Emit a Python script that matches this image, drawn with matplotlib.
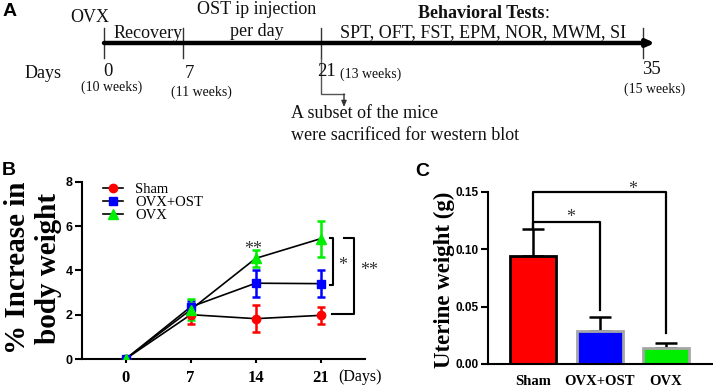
import matplotlib
matplotlib.use("Agg")
import matplotlib.pyplot as plt
from matplotlib.lines import Line2D

SERIF = "Liberation Serif"
SANS = "Liberation Sans"

RED = "#ff0000"
BLUE = "#0000ff"
GREEN = "#00ee00"

# --- Panel B: % increase in body weight ---
days = ["0", "7", "14", "21"]
sham_mean = [0.0, 2.0, 1.82, 1.97]
sham_err = [0.0, 0.42, 0.62, 0.39]
ost_mean = [0.0, 2.35, 3.42, 3.40]
ost_err = [0.0, 0.25, 0.60, 0.62]
ovx_mean = [0.0, 2.22, 4.54, 5.43]
ovx_err = [0.0, 0.47, 0.40, 0.81]

# --- Panel C: uterine weight ---
groups = ["Sham", "OVX+OST", "OVX"]
uterine_mean = [0.094, 0.029, 0.014]
uterine_err = [0.024, 0.012, 0.0044]

# --- Panel A: timeline ---
tl_days = ["0", "7", "21", "35"]
tl_weeks = ["(10 weeks)", "(11 weeks)", "(13 weeks)", "(15 weeks)"]
tl_x = [104, 183, 321, 643]  # pixel positions of the day ticks

fig = plt.figure(figsize=(7.13, 3.87), dpi=100)

# ---------------- Panel A (pixel coordinates) ----------------
ax0 = fig.add_axes([0, 0, 1, 1])
ax0.set_xlim(0, 713)
ax0.set_ylim(387, 0)
ax0.axis("off")

ax0.annotate("", xy=(655, 43), xytext=(tl_x[0], 43),
             arrowprops=dict(arrowstyle="-|>,head_length=0.45,head_width=0.2",
                             lw=3.2, color="black", shrinkA=0, shrinkB=0))
for x in tl_x:
    ax0.plot([x, x], [28, 58], color="#333333", lw=1.0)

tA = dict(family=SERIF, fontsize=13, color="#111111")
ax0.text(90, 18, "OVX", ha="center", va="center", **tA)
ax0.text(148, 33, "Recovery", ha="center", va="center", **tA)
ax0.text(257, 9, "OST ip injection", ha="center", va="center", **tA)
ax0.text(257, 32, "per day", ha="center", va="center", **tA)
bt = ax0.text(418, 13, "Behavioral Tests", ha="left", va="center",
              fontweight="bold", **tA)
ax0.annotate(":", xy=(1, 0.5), xycoords=bt, ha="left", va="center", **tA)
ax0.text(340, 33, "SPT, OFT, FST, EPM, NOR, MWM, SI", ha="left", va="center", **tA)
ax0.text(25, 73, "Days", ha="left", va="center", **tA)

day_y = [71, 74, 72, 70]
week_pos = [(112, 87, "center"), (201, 92, "center"), (340, 74, "left"), (655, 89, "center")]
day_dx = [4, 6, 6, 8]
for x, lab, dy, dx, (wx, wy, wha), wk in zip(tl_x, tl_days, day_y, day_dx, week_pos, tl_weeks):
    ax0.text(x + dx, dy, lab, ha="center", va="center", family=SERIF,
             fontsize=13.5, color="#111111")
    ax0.text(wx, wy, wk, ha=wha, va="center", family=SERIF, fontsize=10,
             color="#111111")

ax0.plot([321, 321, 344], [58, 94, 94], color="#555555", lw=1.0)
ax0.annotate("", xy=(344, 107), xytext=(344, 94),
             arrowprops=dict(arrowstyle="-|>,head_length=0.35,head_width=0.15",
                             lw=1.0, color="#333333", shrinkA=0, shrinkB=0))
ax0.text(291, 113, "A subset of the mice", ha="left", va="center", **tA)
ax0.text(291, 135, "were sacrificed for western blot", ha="left", va="center", **tA)

fig.text(0.004, 1 - 12 / 387, "A", family=SANS, fontsize=14, fontweight="bold",
         ha="left", va="center")
fig.text(0.003, 1 - 170 / 387, "B", family=SANS, fontsize=14, fontweight="bold",
         ha="left", va="center")
fig.text(415 / 713, 1 - 171 / 387, "C", family=SANS, fontsize=14, fontweight="bold",
         ha="left", va="center")

# ---------------- Panel B ----------------
axB = fig.add_axes([82 / 713, 28 / 387, 283 / 713, 177.3 / 387])
xs = list(range(len(days)))
series = [
    ("Sham", sham_mean, sham_err, RED, "o", 6),
    ("OVX+OST", ost_mean, ost_err, BLUE, "s", 6),
    ("OVX", ovx_mean, ovx_err, GREEN, "^", 7),
]
for name, m, e, c, mk, ms in series:
    axB.plot(xs, m, color="black", lw=1.2, zorder=2)
for name, m, e, c, mk, ms in series:
    axB.errorbar(xs, m, yerr=e, fmt="none", ecolor=c, elinewidth=1.8,
                 capsize=2.6, capthick=1.8, zorder=3)
    axB.plot(xs, m, linestyle="none", marker=mk, ms=ms, color=c, zorder=4)

axB.set_xlim(-0.67, 3.68)
axB.set_ylim(0, 8)
axB.set_yticks([0, 2, 4, 6, 8])
axB.set_xticks(xs)
axB.set_xticklabels(days, family=SERIF, fontsize=12, fontweight="bold")
for lab in axB.get_yticklabels():
    lab.set_family(SANS)
    lab.set_fontweight("bold")
    lab.set_fontsize(9)
axB.tick_params(axis="y", length=5, width=1.5, pad=1.5)
axB.tick_params(axis="x", length=3, width=1.5, pad=5)
for s in ("top", "right"):
    axB.spines[s].set_visible(False)
for s in ("left", "bottom"):
    axB.spines[s].set_linewidth(1.5)

axB.text(3.27, -0.10, "(Days)", transform=axB.get_xaxis_transform(),
         family=SERIF, fontsize=11.5, ha="left", va="center")

handles = [Line2D([], [], color="black", lw=1.2, marker=mk, ms=ms, mfc=c, mec=c)
           for name, m, e, c, mk, ms in series]
axB.legend(handles, [s[0] for s in series], loc="upper left",
           bbox_to_anchor=(0.074, 0.995), frameon=False, borderpad=0,
           borderaxespad=0, labelspacing=0.0, handlelength=1.4,
           handletextpad=0.8, prop=dict(family=SERIF, size=10.5))

# significance brackets
br1_x = [3.14, 3.19, 3.19, 3.14]
br1_y = [5.46, 5.46, 3.34, 3.34]
br2_x = [3.35, 3.51, 3.51, 3.17]
br2_y = [5.46, 5.46, 2.03, 2.03]
axB.plot(br1_x, br1_y, color="black", lw=1.5, clip_on=False)
axB.plot(br2_x, br2_y, color="black", lw=1.5, clip_on=False)
star = dict(family=SERIF, fontsize=13, color="#333333", ha="center", va="center")
axB.text(1.96, 4.95, "**", **star)
axB.text(3.33, 4.22, "*", clip_on=False, **star)
axB.text(3.74, 4.0, "**", clip_on=False, **star)

fig.text(33 / 713, 1 - 268 / 387, "% Increase in\nbody weight", rotation=90,
         family=SERIF, fontsize=21, fontweight="bold", ha="center", va="center",
         multialignment="center", linespacing=1.15)

# ---------------- Panel C ----------------
axC = fig.add_axes([488 / 713, 23 / 387, 224 / 713, 172 / 387])
xc = list(range(len(groups)))
bar_colors = [RED, BLUE, GREEN]
edge_colors = ["black", "#a6a6a6", "#a6a6a6"]
axC.bar(xc, uterine_mean, width=0.69, color=bar_colors, edgecolor=edge_colors,
        linewidth=2.0, zorder=2)
axC.errorbar(xc, uterine_mean, yerr=[[0] * len(xc), uterine_err], fmt="none",
             ecolor="black", elinewidth=1.8, capsize=8, capthick=1.8, zorder=1)
axC.set_xlim(-0.677, 2.69)
axC.set_ylim(0, 0.15)
axC.set_yticks([0.0, 0.05, 0.10, 0.15])
axC.set_yticklabels(["0.00", "0.05", "0.10", "0.15"], family=SANS,
                    fontweight="bold", fontsize=8.5)
axC.set_xticks(xc)
axC.set_xticklabels(groups, family=SERIF, fontweight="bold", fontsize=10.5)
axC.tick_params(axis="y", length=5, width=1.5, pad=1.5)
axC.tick_params(axis="x", length=0, pad=8)
for s in ("top", "right"):
    axC.spines[s].set_visible(False)
for s in ("left", "bottom"):
    axC.spines[s].set_linewidth(1.5)

brc1_x = [0, 0, 1, 1]
brc1_y = [0.118, 0.124, 0.124, 0.047]
brc2_x = [0, 0, 2, 2]
brc2_y = [0.118, 0.150, 0.150, 0.027]
axC.plot(brc1_x, brc1_y, color="black", lw=1.6, clip_on=False)
axC.plot(brc2_x, brc2_y, color="black", lw=1.6, clip_on=False)
axC.text(0.56, 0.128, "*", clip_on=False, **star)
axC.text(1.49, 0.152, "*", clip_on=False, **star)

fig.text(444 / 713, 1 - 280 / 387, "Uterine weight (g)", rotation=90,
         family=SERIF, fontsize=16.5, fontweight="bold", ha="center", va="center")

fig.savefig("out.png", dpi=100)
